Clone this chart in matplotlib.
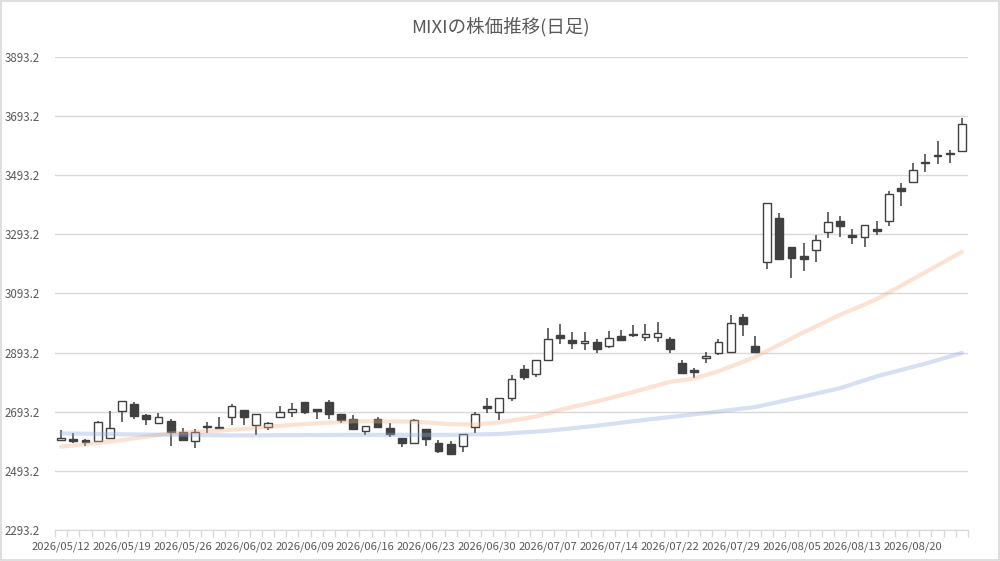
import matplotlib
matplotlib.use("Agg")
import matplotlib.pyplot as plt
from matplotlib.patches import Rectangle

plt.rcParams['font.family'] = ['Noto Sans CJK JP', 'DejaVu Sans']

title = "MIXIの株価推移(日足)"

opens = [2597, 2601, 2597, 2595, 2604, 2695, 2719, 2683, 2655, 2662,
         2625, 2593, 2645, 2643, 2674, 2699, 2648, 2641, 2675, 2692,
         2726, 2701, 2726, 2685, 2668, 2628, 2668, 2638, 2606, 2587,
         2635, 2587, 2584, 2578, 2641, 2711, 2692, 2740, 2838, 2821,
         2869, 2954, 2936, 2926, 2928, 2915, 2949, 2957, 2947, 2946,
         2939, 2859, 2835, 2874, 2892, 2895, 3013, 2915, 3200, 3348,
         3250, 3221, 3240, 3300, 3338, 3292, 3284, 3311, 3338, 3450,
         3471, 3537, 3563, 3568, 3575]
highs = [2632, 2623, 2600, 2662, 2695, 2731, 2726, 2686, 2689, 2668,
         2638, 2635, 2657, 2675, 2718, 2699, 2686, 2657, 2714, 2723,
         2727, 2704, 2734, 2685, 2683, 2645, 2675, 2654, 2606, 2668,
         2635, 2598, 2593, 2619, 2692, 2740, 2740, 2817, 2851, 2868,
         2977, 2990, 2963, 2963, 2939, 2966, 2970, 2988, 2991, 2997,
         2946, 2868, 2841, 2895, 2939, 3020, 3024, 2950, 3399, 3366,
         3250, 3264, 3292, 3369, 3356, 3311, 3325, 3338, 3441, 3467,
         3535, 3566, 3609, 3577, 3688]
lows = [2595, 2587, 2576, 2593, 2604, 2658, 2667, 2650, 2655, 2578,
        2596, 2569, 2623, 2635, 2647, 2647, 2613, 2630, 2673, 2675,
        2684, 2668, 2668, 2655, 2635, 2613, 2642, 2608, 2574, 2587,
        2578, 2553, 2550, 2557, 2621, 2689, 2664, 2728, 2799, 2812,
        2866, 2922, 2907, 2901, 2892, 2909, 2932, 2947, 2931, 2928,
        2892, 2823, 2809, 2857, 2885, 2895, 2951, 2892, 3176, 3210,
        3146, 3168, 3199, 3280, 3284, 3261, 3249, 3291, 3320, 3388,
        3467, 3503, 3530, 3535, 3575]
closes = [2605, 2593, 2591, 2660, 2637, 2731, 2679, 2668, 2675, 2625,
          2596, 2625, 2641, 2639, 2714, 2674, 2685, 2655, 2691, 2704,
          2692, 2697, 2685, 2666, 2635, 2645, 2642, 2618, 2587, 2664,
          2601, 2562, 2550, 2619, 2686, 2707, 2740, 2804, 2811, 2868,
          2939, 2943, 2926, 2932, 2905, 2943, 2936, 2953, 2956, 2960,
          2905, 2823, 2827, 2882, 2928, 2993, 2990, 2895, 3399, 3210,
          3213, 3210, 3274, 3335, 3320, 3284, 3325, 3304, 3430, 3440,
          3511, 3533, 3559, 3564, 3667]

tick_labels = ["2026/05/12", "2026/05/19", "2026/05/26", "2026/06/02", "2026/06/09",
               "2026/06/16", "2026/06/23", "2026/06/30", "2026/07/07", "2026/07/14",
               "2026/07/22", "2026/07/29", "2026/08/05", "2026/08/13", "2026/08/20"]

ma25_idx = [0, 4, 9, 14, 19, 24, 29, 32, 34, 36, 39, 41, 44, 47, 50, 52, 54, 57, 61, 64, 67, 74]
ma25_val = [2575, 2592, 2620, 2632, 2649, 2661, 2660, 2651, 2650, 2657, 2677, 2700, 2728,
            2760, 2794, 2806, 2830, 2878, 2962, 3021, 3074, 3234]
ma75_idx = [0, 5, 10, 14, 24, 32, 36, 40, 44, 48, 53, 57, 61, 64, 67, 71, 74]
ma75_val = [2620, 2617, 2615, 2613, 2615, 2615, 2618, 2629, 2646, 2666, 2689, 2709, 2745,
            2773, 2813, 2856, 2892]

yticks = [2293.2, 2493.2, 2693.2, 2893.2, 3093.2, 3293.2, 3493.2, 3693.2, 3893.2]

fig = plt.figure(figsize=(10, 5.61), dpi=100)
ax = fig.add_axes([0.055, 1 - 530 / 561, 0.913, 473 / 561])

text_c = '#595959'
dark = '#404040'
n = len(closes)
bw = 0.64
for i in range(n):
    o, h, l, c = opens[i], highs[i], lows[i], closes[i]
    up = c > o
    ax.plot([i, i], [l, h], color=dark, lw=1.1, zorder=2, solid_capstyle='butt')
    bottom = min(o, c)
    height = max(abs(c - o), 3)
    ax.add_patch(Rectangle((i - bw / 2, bottom), bw, height,
                           facecolor='white' if up else dark,
                           edgecolor=dark, lw=1.0, zorder=3))

ax.plot(ma25_idx, ma25_val, color='#f4b183', alpha=0.36, lw=3.0, zorder=4,
        solid_capstyle='round', solid_joinstyle='round')
ax.plot(ma75_idx, ma75_val, color='#8faadc', alpha=0.36, lw=3.0, zorder=4,
        solid_capstyle='round', solid_joinstyle='round')

ax.set_xlim(-0.5, n - 0.5)
ax.set_ylim(yticks[0], yticks[-1])
ax.set_yticks(yticks)
ax.set_yticklabels([f"{v:.1f}" for v in yticks])
ax.yaxis.grid(True, color='#d9d9d9', lw=1.0)
ax.set_axisbelow(True)
ax.tick_params(axis='y', length=0, pad=11, labelsize=8.3, labelcolor=text_c)

ax.set_xticks(list(range(0, n, 5)))
ax.set_xticklabels(tick_labels)
ax.set_xticks([i - 0.5 for i in range(n + 1)], minor=True)
ax.tick_params(axis='x', which='major', length=0, pad=8, labelsize=8.1, labelcolor=text_c)
ax.tick_params(axis='x', which='minor', length=5, color='#d9d9d9', width=1.0)

for s in ['top', 'right', 'left']:
    ax.spines[s].set_visible(False)
ax.spines['bottom'].set_color('#d9d9d9')

fig.text(0.5, 1 - 27 / 561, title, ha='center', va='center', fontsize=13.3, color=text_c)
fig.patches.append(Rectangle((0.001, 0.001), 0.998, 0.997, transform=fig.transFigure,
                             fill=False, edgecolor='#d9d9d9', lw=1.2))

fig.savefig("out.png", dpi=100)
